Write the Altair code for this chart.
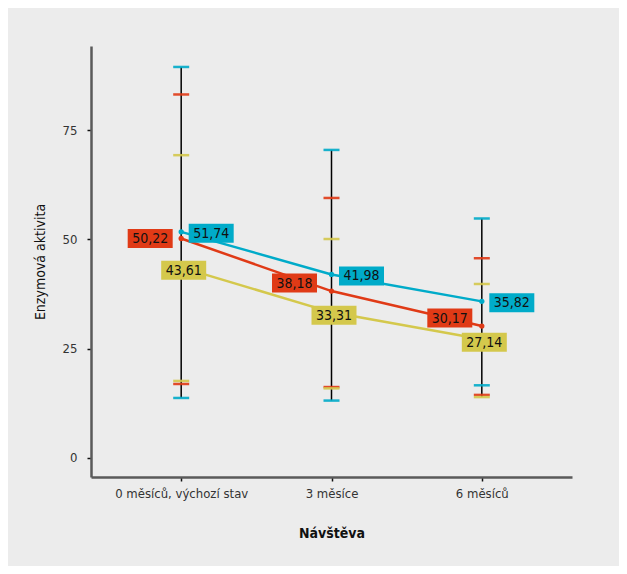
import altair as alt
import pandas as pd

visits = ["0 měsíců, výchozí stav", "3 měsíce", "6 měsíců"]
series = ["ALT", "AST", "GGT"]
colors = ["#e03a16", "#d4c84c", "#00abc9"]

alt_mean = [50.22, 38.18, 30.17]
ast_mean = [43.61, 33.31, 27.14]
ggt_mean = [51.74, 41.98, 35.82]

alt_low = [16.9, 16.2, 14.4]
alt_high = [83.2, 59.5, 45.7]
ast_low = [17.6, 15.9, 13.9]
ast_high = [69.3, 50.1, 39.8]
ggt_low = [13.7, 13.1, 16.6]
ggt_high = [89.5, 70.5, 54.8]

rows = []
for s, m, lo, hi in [("ALT", alt_mean, alt_low, alt_high),
                     ("AST", ast_mean, ast_low, ast_high),
                     ("GGT", ggt_mean, ggt_low, ggt_high)]:
    for i, v in enumerate(visits):
        rows.append({"visit": v, "series": s, "mean": m[i], "low": lo[i], "high": hi[i],
                     "label": f"{m[i]:.2f}".replace(".", ","), "idx": i})
df = pd.DataFrame(rows)

span = df.groupby("visit", sort=False).agg(lo=("low", "min"), hi=("high", "max")).reset_index()

FONT = "Liberation Sans Narrow, DejaVu Sans Condensed, Roboto Condensed, Arial Narrow, sans-serif"

xenc = alt.X("visit:N", sort=visits,
             scale=alt.Scale(type="point", padding=0.6),
             axis=alt.Axis(title="Návštěva", labelAngle=0, labelAlign="center",
                           labelBaseline="top", titleFontWeight="bold",
                           labelPadding=6, titlePadding=26))
yscale = alt.Scale(domain=[-4.4, 94.3], nice=False, zero=False)
yenc = alt.Y("mean:Q", scale=yscale,
             axis=alt.Axis(title="Enzymová aktivita", values=[0, 25, 50, 75],
                           labelPadding=10, titlePadding=15))
color = alt.Color("series:N", scale=alt.Scale(domain=series, range=colors), legend=None)

base = alt.Chart(df)

rule = alt.Chart(span).mark_rule(color="black", strokeWidth=1.5).encode(
    x=alt.X("visit:N", sort=visits, scale=alt.Scale(type="point", padding=0.6)),
    y=alt.Y("lo:Q", scale=yscale),
    y2="hi:Q",
)

caps_hi = base.mark_tick(size=16, thickness=2.5, opacity=0.9).encode(
    x=xenc, y=alt.Y("high:Q", scale=yscale), color=color)
caps_lo = base.mark_tick(size=16, thickness=2.5, opacity=0.9).encode(
    x=xenc, y=alt.Y("low:Q", scale=yscale), color=color)

lines = base.mark_line(strokeWidth=2.5).encode(x=xenc, y=yenc, color=color, detail="series:N")

dots = base.mark_circle(size=28, opacity=1).encode(
    x=xenc, y=yenc,
    color=alt.Color("series:N", scale=alt.Scale(domain=series, range=colors),
                    legend=alt.Legend(title=None, orient="none", legendX=452, legendY=184,
                                      symbolType="square", symbolSize=180,
                                      symbolStrokeWidth=0, rowPadding=0,
                                      labelFontSize=14, labelFont=FONT, labelColor="#111",
                                      labelOffset=6)))


def label_layer(filt, dx, dy):
    sub = base.transform_filter(filt)
    r = sub.mark_rect(width=45, height=19, xOffset=dx, yOffset=dy).encode(
        x=xenc, y=yenc, color=color)
    t = sub.mark_text(font=FONT, fontSize=14, color="#111", xOffset=dx, yOffset=dy + 0.5).encode(
        x=xenc, y=yenc, text="label:N")
    return r + t


labels = (
    label_layer("datum.series == 'ALT' && datum.idx == 0", -31, 0)
    + label_layer("datum.series == 'ALT' && datum.idx == 1", -37, -8)
    + label_layer("datum.series == 'ALT' && datum.idx == 2", -32, -8)
    + label_layer("datum.series == 'GGT'", 30, 1.5)
    + label_layer("datum.series == 'AST'", 2.5, 3)
)

chart = alt.layer(rule, lines, caps_hi, caps_lo, dots, labels).properties(
    width=481, height=431,
    autosize=alt.AutoSizeParams(type="none"),
    padding={"left": 83, "top": 38, "right": 47, "bottom": 89},
    background="#ececec",
).configure_view(stroke=None).configure_axis(
    grid=False, domainColor="#5a5a5a", domainWidth=2.5, tickColor="#111", tickSize=4,
    tickWidth=1.5, labelFont=FONT, labelFontSize=13, labelColor="#333",
    titleFont=FONT, titleFontSize=14, titleColor="#111", titleFontWeight="normal",
)

chart.save("out.html", embed_options={"renderer": "svg", "actions": False})
